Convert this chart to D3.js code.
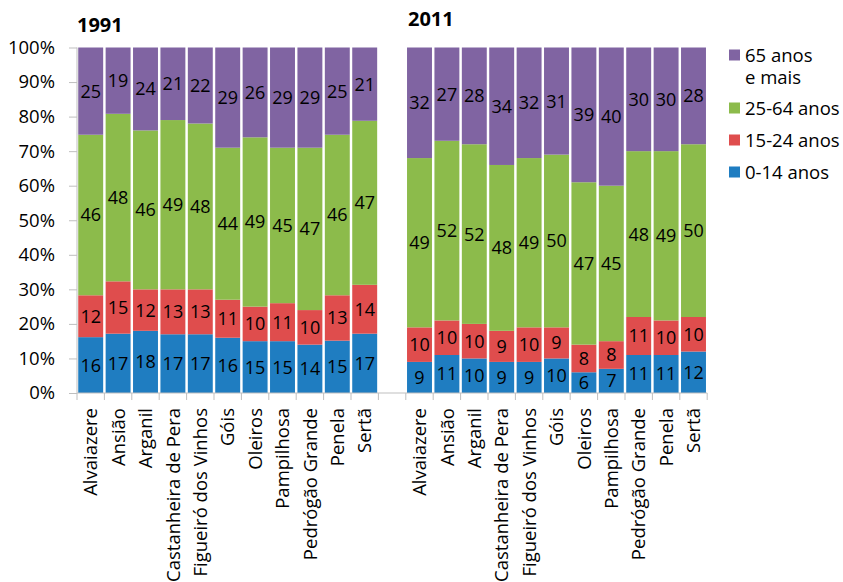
<!DOCTYPE html>
<html>
<head>
<meta charset="utf-8">
<script src="https://cdn.jsdelivr.net/npm/d3@7"></script>
<style>
  html, body { margin: 0; padding: 0; background: #fff; }
  svg text { font-family: "Open Sans", sans-serif; fill: #000; }
</style>
</head>
<body>
<svg id="chart" width="843" height="582"></svg>
<script>
const municipios = ["Alvaiazere", "Ansião", "Arganil", "Castanheira de Pera", "Figueiró dos Vinhos",
  "Góis", "Oleiros", "Pampilhosa", "Pedrógão Grande", "Penela", "Sertã"];
const years = ["1991", "2011"];
const seriesNames = ["0-14 anos", "15-24 anos", "25-64 anos", "65 anos e mais"];
const seriesColors = ["#1F7DC1", "#DF4D4D", "#8CBB4B", "#8064A2"];

const v1991_0_14  = [16, 17, 18, 17, 17, 16, 15, 15, 14, 15, 17];
const v1991_15_24 = [12, 15, 12, 13, 13, 11, 10, 11, 10, 13, 14];
const v1991_25_64 = [46, 48, 46, 49, 48, 44, 49, 45, 47, 46, 47];
const v1991_65    = [25, 19, 24, 21, 22, 29, 26, 29, 29, 25, 21];

const v2011_0_14  = [9, 11, 10, 9, 9, 10, 6, 7, 11, 11, 12];
const v2011_15_24 = [10, 10, 10, 9, 10, 9, 8, 8, 11, 10, 10];
const v2011_25_64 = [49, 52, 52, 48, 49, 50, 47, 45, 48, 49, 50];
const v2011_65    = [32, 27, 28, 34, 32, 31, 39, 40, 30, 30, 28];

const yTicks = [0, 0.1, 0.2, 0.3, 0.4, 0.5, 0.6, 0.7, 0.8, 0.9, 1.0];

// Build rows
const byYear = {
  "1991": [v1991_0_14, v1991_15_24, v1991_25_64, v1991_65],
  "2011": [v2011_0_14, v2011_15_24, v2011_25_64, v2011_65]
};
const rows = [];
years.forEach(yr => {
  municipios.forEach((m, i) => {
    const r = { key: yr + "|" + m, name: m };
    seriesNames.forEach((s, j) => { r[s] = byYear[yr][j][i]; });
    rows.push(r);
  });
});
const domain = [...municipios.map(m => "1991|" + m), "gap", ...municipios.map(m => "2011|" + m)];

const svg = d3.select("#chart");
const pLeft = 77, pRight = 707.2, pBottom = 393, pTop = 47.5;

const x = d3.scaleBand().domain(domain).range([pLeft, pRight]).paddingInner(0.09).paddingOuter(0.045);
const y = d3.scaleLinear().domain([0, 1]).range([pBottom, pTop]);
const color = d3.scaleOrdinal().domain(seriesNames).range(seriesColors);

const stack = d3.stack().keys(seriesNames).offset(d3.stackOffsetExpand);
const stacked = stack(rows);

// Y axis
const yAxis = svg.append("g")
  .attr("transform", `translate(${pLeft},0)`)
  .call(d3.axisLeft(y).tickValues(yTicks).tickFormat(d3.format(".0%")).tickSize(8).tickPadding(14));
yAxis.selectAll("line").attr("stroke", "#BFBFBF");
yAxis.select(".domain").attr("stroke", "#BFBFBF").attr("d", `M0,${pTop}V${pBottom}`);
yAxis.selectAll("text").style("font-size", "18.5px").style("font-family", "'Open Sans', sans-serif").attr("fill", "#000");

// Bars
const layers = svg.append("g").selectAll("g").data(stacked).join("g")
  .attr("fill", d => color(d.key));
layers.selectAll("rect").data(d => d).join("rect")
  .attr("x", d => x(d.data.key))
  .attr("width", x.bandwidth())
  .attr("y", d => y(d[1]))
  .attr("height", d => y(d[0]) - y(d[1]));

// Value labels
const labels = svg.append("g");
stacked.forEach(layer => {
  labels.append("g").selectAll("text").data(layer).join("text")
    .attr("x", d => x(d.data.key) + x.bandwidth() / 2)
    .attr("y", d => (y(d[0]) + y(d[1])) / 2)
    .attr("dy", "0.36em")
    .attr("text-anchor", "middle")
    .style("font-size", "18px")
    .text(d => d.data[layer.key]);
});

// X axis
const xAxis = svg.append("g")
  .attr("transform", `translate(0,${pBottom})`)
  .call(d3.axisBottom(x).tickSize(0).tickPadding(0).tickFormat(k => k === "gap" ? "" : k.split("|")[1]));
xAxis.select(".domain").attr("stroke", "#BFBFBF").attr("d", `M${pLeft},0H${pRight}`);
xAxis.selectAll("text")
  .attr("transform", "rotate(-90)")
  .attr("x", -15).attr("y", 0).attr("dy", "0.36em")
  .attr("text-anchor", "end")
  .style("font-size", "18.5px")
  .style("font-family", "'Open Sans', sans-serif")
  .attr("fill", "#000");
// boundary ticks between categories
const bounds = d3.range(domain.length + 1).map(k => pLeft + k * x.step());
svg.append("g").selectAll("line").data(bounds).join("line")
  .attr("x1", d => d).attr("x2", d => d)
  .attr("y1", pBottom).attr("y2", pBottom + 7)
  .attr("stroke", "#BFBFBF");

// Titles
svg.append("text").attr("x", 77).attr("y", 32).style("font-size", "20px").style("font-weight", "bold").text(years[0]);
svg.append("text").attr("x", 408).attr("y", 26).style("font-size", "20px").style("font-weight", "bold").text(years[1]);

// Legend (reverse order)
const legendItems = [
  { s: seriesNames[3], lines: ["65 anos", "e mais"], cy: 55 },
  { s: seriesNames[2], lines: ["25-64 anos"], cy: 108 },
  { s: seriesNames[1], lines: ["15-24 anos"], cy: 140 },
  { s: seriesNames[0], lines: ["0-14 anos"], cy: 172 }
];
const lg = svg.append("g");
legendItems.forEach(it => {
  lg.append("rect").attr("x", 729).attr("y", it.cy - 5.5).attr("width", 11).attr("height", 11).attr("fill", color(it.s));
  const t = lg.append("text").attr("x", 745).attr("y", it.cy).style("font-size", "18.5px");
  it.lines.forEach((line, i) => {
    t.append("tspan").attr("x", 745).attr("dy", i === 0 ? "0.36em" : "22px").text(line);
  });
});
</script>
</body>
</html>
